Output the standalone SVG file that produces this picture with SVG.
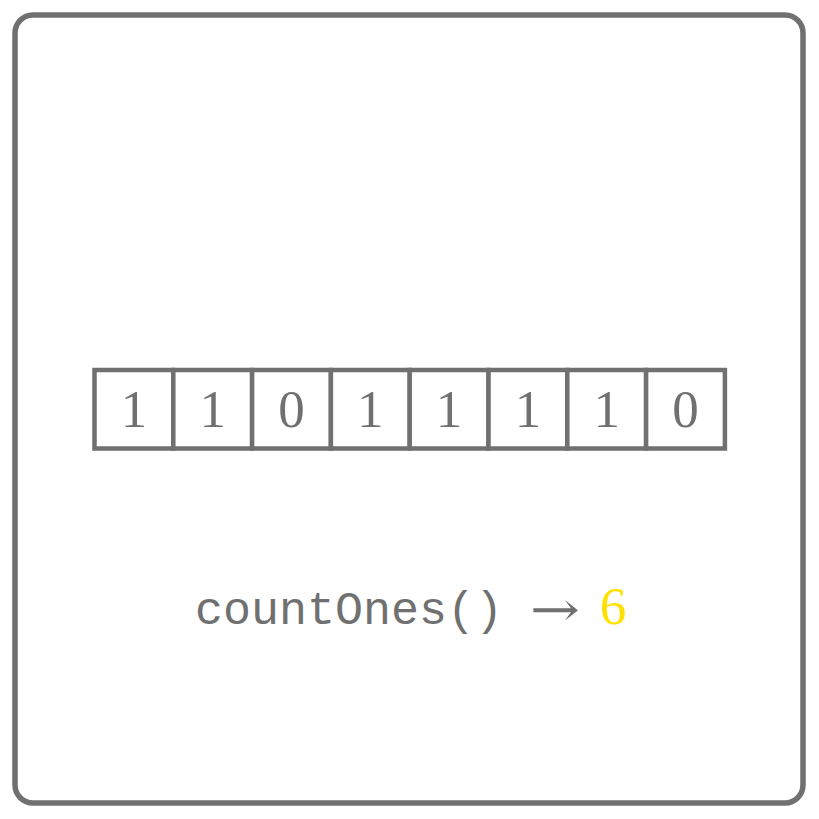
<svg xmlns="http://www.w3.org/2000/svg" width="819" height="819" viewBox="0 0 819 819">
<style>
.cell{fill:#fff;stroke:#707070;stroke-width:4.5}
.d{font-family:"Liberation Serif","DejaVu Serif",serif;font-size:53px;fill:#707070;text-anchor:middle}
.m{font-family:"Liberation Mono","DejaVu Sans Mono",monospace;font-size:46px;fill:#707070}
</style>
<rect width="819" height="819" fill="#fff"/>
<g id="frame"><rect x="15" y="15" width="788" height="788" rx="18" fill="#fff" stroke="#707070" stroke-width="5.5"/></g>
<g id="array">
<g id="c0"><rect class="cell" x="94.5" y="370" width="78.8" height="78.5"/><text class="d" x="133.9" y="427">1</text></g>
<g id="c1"><rect class="cell" x="173.3" y="370" width="78.8" height="78.5"/><text class="d" x="212.7" y="427">1</text></g>
<g id="c2"><rect class="cell" x="252.1" y="370" width="78.8" height="78.5"/><text class="d" x="291.5" y="427">0</text></g>
<g id="c3"><rect class="cell" x="330.9" y="370" width="78.8" height="78.5"/><text class="d" x="370.3" y="427">1</text></g>
<g id="c4"><rect class="cell" x="409.7" y="370" width="78.8" height="78.5"/><text class="d" x="449.1" y="427">1</text></g>
<g id="c5"><rect class="cell" x="488.5" y="370" width="78.8" height="78.5"/><text class="d" x="527.9" y="427">1</text></g>
<g id="c6"><rect class="cell" x="567.3" y="370" width="78.8" height="78.5"/><text class="d" x="606.7" y="427">1</text></g>
<g id="c7"><rect class="cell" x="646.1" y="370" width="78.8" height="78.5"/><text class="d" x="685.5" y="427">0</text></g>
</g>
<g id="label">
<text class="m" x="195" y="624" textLength="308" lengthAdjust="spacingAndGlyphs">countOnes()</text>
<text x="530" y="626" font-family="'DejaVu Serif',serif" font-size="48" fill="#707070" textLength="50" lengthAdjust="spacingAndGlyphs">→</text>
<text x="613" y="624" font-family="'Liberation Serif',serif" font-size="53" fill="#FFE000" text-anchor="middle">6</text>
</g>
<g id="connectors"></g>
</svg>
